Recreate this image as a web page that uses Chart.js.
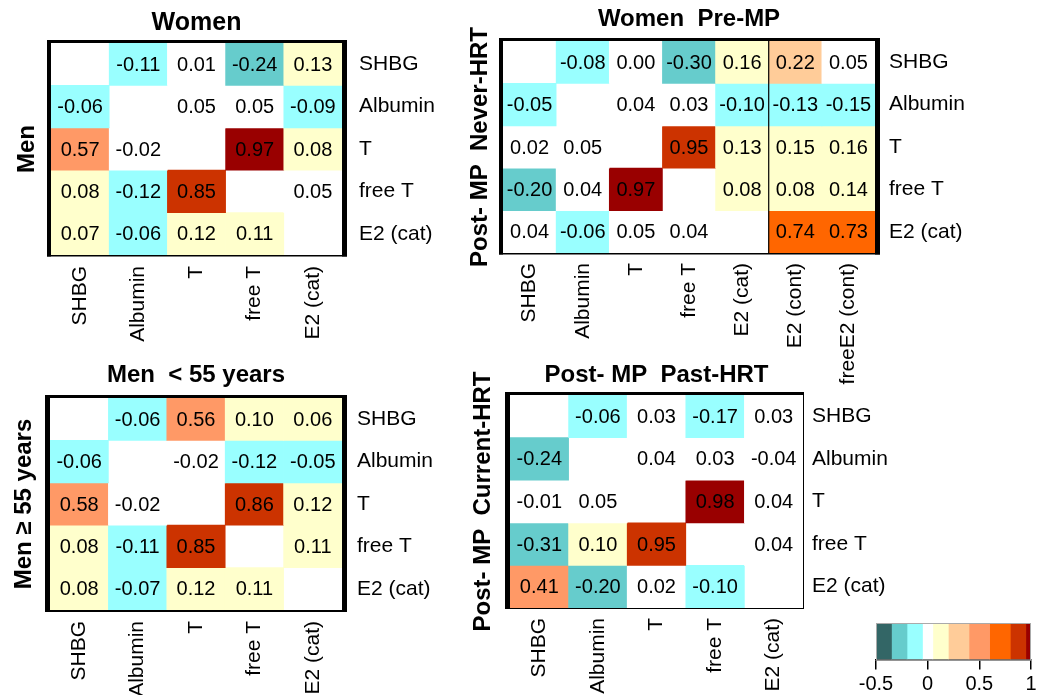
<!DOCTYPE html>
<html>
<head>
<meta charset="utf-8">
<script src="https://cdn.jsdelivr.net/npm/chart.js@4.4.1/dist/chart.umd.min.js"></script>
<style>
  body { margin: 0; background: #fff; }
  #wrap { position: relative; width: 1040px; height: 695px; overflow: hidden; background: #fff; }
  canvas { position: absolute; }
</style>
</head>
<body>
<div id="wrap">
  <canvas id="c1" width="460" height="355" style="left:0px;top:0px"></canvas>
  <canvas id="c2" width="580" height="400" style="left:460px;top:0px"></canvas>
  <canvas id="c3" width="460" height="340" style="left:0px;top:355px"></canvas>
  <canvas id="c4" width="470" height="340" style="left:460px;top:355px"></canvas>
  <canvas id="cb" width="190" height="95" style="left:850px;top:600px"></canvas>
</div>
<script>
const vars5 = ["SHBG", "Albumin", "T", "free T", "E2 (cat)"];
const vars7 = ["SHBG", "Albumin", "T", "free T", "E2 (cat)", "E2 (cont)", "freeE2 (cont)"];

// Women (above diagonal) / Men (below diagonal)
const sexShbg  = [null, -0.11, 0.01, -0.24, 0.13];
const sexAlb   = [-0.06, null, 0.05, 0.05, -0.09];
const sexT     = [0.57, -0.02, null, 0.97, 0.08];
const sexFreeT = [0.08, -0.12, 0.85, null, 0.05];
const sexE2    = [0.07, -0.06, 0.12, 0.11, null];

// Women Pre-MP (above) / Post-MP Never-HRT (below)
const preShbg  = [null, -0.08, 0.00, -0.30, 0.16, 0.22, 0.05];
const preAlb   = [-0.05, null, 0.04, 0.03, -0.10, -0.13, -0.15];
const preT     = [0.02, 0.05, null, 0.95, 0.13, 0.15, 0.16];
const preFreeT = [-0.20, 0.04, 0.97, null, 0.08, 0.08, 0.14];
const preE2    = [0.04, -0.06, 0.05, 0.04, null, 0.74, 0.73];

// Men < 55 (above) / Men >= 55 (below)
const ageShbg  = [null, -0.06, 0.56, 0.10, 0.06];
const ageAlb   = [-0.06, null, -0.02, -0.12, -0.05];
const ageT     = [0.58, -0.02, null, 0.86, 0.12];
const ageFreeT = [0.08, -0.11, 0.85, null, 0.11];
const ageE2    = [0.08, -0.07, 0.12, 0.11, null];

// Post-MP Past-HRT (above) / Post-MP Current-HRT (below)
const hrtShbg  = [null, -0.06, 0.03, -0.17, 0.03];
const hrtAlb   = [-0.24, null, 0.04, 0.03, -0.04];
const hrtT     = [-0.01, 0.05, null, 0.98, 0.04];
const hrtFreeT = [-0.31, 0.10, 0.95, null, 0.04];
const hrtE2    = [0.41, -0.20, 0.02, -0.10, null];

// colour key
const cbBreaks = [-0.5, -0.35, -0.2, -0.05, 0.05, 0.2, 0.4, 0.6, 0.8, 0.95, 1];
const cbColors = ["#336666", "#66cccc", "#99ffff", "#ffffff", "#ffffcc",
                  "#ffcc99", "#ff9966", "#ff6600", "#cc3300", "#990000"];
const cbTicks = [-0.5, 0, 0.5, 1];

const FONT = '"Liberation Sans", Arial, Helvetica, sans-serif';
Chart.defaults.font.family = FONT;
Chart.defaults.color = "#000";

function cellColor(v) {
  for (let i = 1; i < cbBreaks.length; i++) {
    if (v <= cbBreaks[i] + 1e-9) return cbColors[i - 1];
  }
  return cbColors[cbColors.length - 1];
}

function heatmap(p) {
  const canvas = document.getElementById(p.id);
  const W = canvas.width, H = canvas.height;
  const a = p.area;
  const titleLH = p.titleSize * 1.2;

  const datasets = p.values.map((row, r) => ({
    data: row.map(v => (v === null ? null : [r, r + 1])),
    values: row,
    backgroundColor: row.map(v => (v === null ? "#ffffff" : cellColor(v))),
    borderWidth: 0,
    barPercentage: 1,
    categoryPercentage: 1,
    grouped: false,
  }));

  const extras = {
    id: "extras",
    afterDatasetsDraw(chart) {
      const ctx = chart.ctx;
      ctx.save();
      ctx.font = "20px " + FONT;
      ctx.fillStyle = "#000";
      ctx.textAlign = "center";
      ctx.textBaseline = "middle";
      chart.data.datasets.forEach((ds, di) => {
        const meta = chart.getDatasetMeta(di);
        meta.data.forEach((bar, i) => {
          const v = ds.values[i];
          if (v === null) return;
          ctx.fillText(v.toFixed(2), bar.x, (bar.y + bar.base) / 2 + 1);
        });
      });
      ctx.restore();
    },
    afterDraw(chart) {
      const ctx = chart.ctx;
      const ca = chart.chartArea;
      const [wl, wt, wr, wb] = p.frame;
      ctx.save();
      ctx.fillStyle = "#000";
      const w = ca.right - ca.left, h = ca.bottom - ca.top;
      ctx.fillRect(ca.left - wl, ca.top - wt, wl, h + wt + wb);
      ctx.fillRect(ca.left - wl, ca.top - wt, w + wl + wr, wt);
      ctx.fillRect(ca.right, ca.top - wt, wr, h + wt + wb);
      ctx.fillRect(ca.left - wl, ca.bottom, w + wl + wr, wb);
      if (p.divider !== undefined) {
        const xs = chart.scales.x;
        const dx = (xs.getPixelForValue(p.divider) + xs.getPixelForValue(p.divider + 1)) / 2;
        ctx.fillRect(dx - 0.6, ca.top, 1.2, h);
      }
      ctx.restore();
    }
  };

  return new Chart(canvas, {
    type: "bar",
    data: { labels: p.cols, datasets: datasets },
    options: {
      responsive: false,
      animation: false,
      layout: { padding: 0 },
      plugins: {
        legend: { display: false },
        tooltip: { enabled: false },
        title: {
          display: true,
          text: p.title,
          fullSize: false,
          color: "#000",
          font: { size: p.titleSize, weight: "bold", lineHeight: 1.2 },
          padding: { top: p.titleTop, bottom: a.t - titleLH - p.titleTop },
        },
      },
      scales: {
        x: {
          type: "category",
          position: "bottom",
          grid: { display: false, drawTicks: false },
          border: { display: false },
          ticks: { autoSkip: false, minRotation: 90, maxRotation: 90, padding: p.colPad, font: { size: 21 }, color: "#000" },
          afterFit: s => { s.height = H - a.b; },
        },
        y: {
          type: "linear",
          position: "right",
          min: 0,
          max: p.rows.length,
          reverse: true,
          grid: { display: false, drawTicks: false },
          border: { display: false },
          afterBuildTicks: s => { s.ticks = p.rows.map((_, i) => ({ value: i + 0.5 })); },
          ticks: { padding: p.rowPad, font: { size: 21 }, color: "#000", callback: (v, i) => p.rows[i] },
          afterFit: s => { s.width = W - a.r; },
        },
        yt: {
          type: "linear",
          position: "left",
          grid: { display: false, drawTicks: false },
          border: { display: false },
          ticks: { display: false },
          title: { display: true, text: p.yTitle, color: "#000", font: { size: 24, weight: "bold", lineHeight: 1.2 }, padding: { top: p.yTitleTop, bottom: 0 } },
          afterFit: s => { s.width = a.l; },
        },
      },
    },
    plugins: [extras],
  });
}

heatmap({
  id: "c1", cols: vars5, rows: vars5,
  values: [sexShbg, sexAlb, sexT, sexFreeT, sexE2],
  title: "Women", yTitle: "Men", titleSize: 25,
  area: { l: 51, t: 43, r: 342, b: 255 },
  titleTop: 8, yTitleTop: 12.6, rowPad: 17, colPad: 11, frame: [4, 3, 5, 1.5],
});

heatmap({
  id: "c2", cols: vars7, rows: vars5,
  values: [preShbg, preAlb, preT, preFreeT, preE2],
  title: "Women  Pre-MP", yTitle: "Post- MP  Never-HRT", titleSize: 24,
  area: { l: 43, t: 41, r: 415, b: 253 },
  titleTop: 4.6, yTitleTop: 5.6, rowPad: 14, colPad: 10, frame: [4, 3, 5, 1.5], divider: 4,
});

heatmap({
  id: "c3", cols: vars5, rows: vars5,
  values: [ageShbg, ageAlb, ageT, ageFreeT, ageE2],
  title: "Men  < 55 years", yTitle: "Men \u2265 55 years", titleSize: 24,
  area: { l: 50, t: 43, r: 342, b: 255 },
  titleTop: 5.6, yTitleTop: 9.6, rowPad: 15, colPad: 11, frame: [5, 3, 5, 2],
});

heatmap({
  id: "c4", cols: vars5, rows: vars5,
  values: [hrtShbg, hrtAlb, hrtT, hrtFreeT, hrtE2],
  title: "Post- MP  Past-HRT", yTitle: "Post- MP  Current-HRT", titleSize: 24,
  area: { l: 50, t: 40, r: 343, b: 253 },
  titleTop: 5.6, yTitleTop: 8.6, rowPad: 9, colPad: 10, frame: [5, 3, 1, 1],
});

// colour key
const keyOutline = {
  id: "keyOutline",
  afterDatasetsDraw(chart) {
    const ctx = chart.ctx, ca = chart.chartArea;
    ctx.save();
    ctx.strokeStyle = "#aaaaaa";
    ctx.lineWidth = 1;
    ctx.strokeRect(ca.left + 0.5, ca.top + 0.5, ca.right - ca.left - 1, ca.bottom - ca.top);
    ctx.restore();
  }
};

new Chart(document.getElementById("cb"), {
  type: "bar",
  data: {
    labels: [""],
    datasets: cbColors.map((c, i) => ({
      data: [[cbBreaks[i], cbBreaks[i + 1]]],
      backgroundColor: c,
      borderWidth: 0,
      barPercentage: 1,
      categoryPercentage: 1,
      grouped: false,
    })),
  },
  options: {
    indexAxis: "y",
    responsive: false,
    animation: false,
    layout: { padding: { left: 26, right: 9, top: 23, bottom: 0 } },
    plugins: { legend: { display: false }, tooltip: { enabled: false } },
    scales: {
      x: {
        type: "linear",
        min: -0.5,
        max: 1,
        position: "bottom",
        grid: { drawOnChartArea: false, drawTicks: true, tickLength: 10, color: "#000", lineWidth: 1.5 },
        border: { display: true, color: "#000", width: 1.5 },
        afterBuildTicks: s => { s.ticks = cbTicks.map(v => ({ value: v })); },
        ticks: { padding: 3, font: { size: 20 }, color: "#000", callback: (v, i) => String(cbTicks[i]) },
        afterFit: s => { s.height = 95 - 59.5; },
      },
      y: { display: false },
    },
  },
  plugins: [keyOutline],
});
</script>
</body>
</html>
